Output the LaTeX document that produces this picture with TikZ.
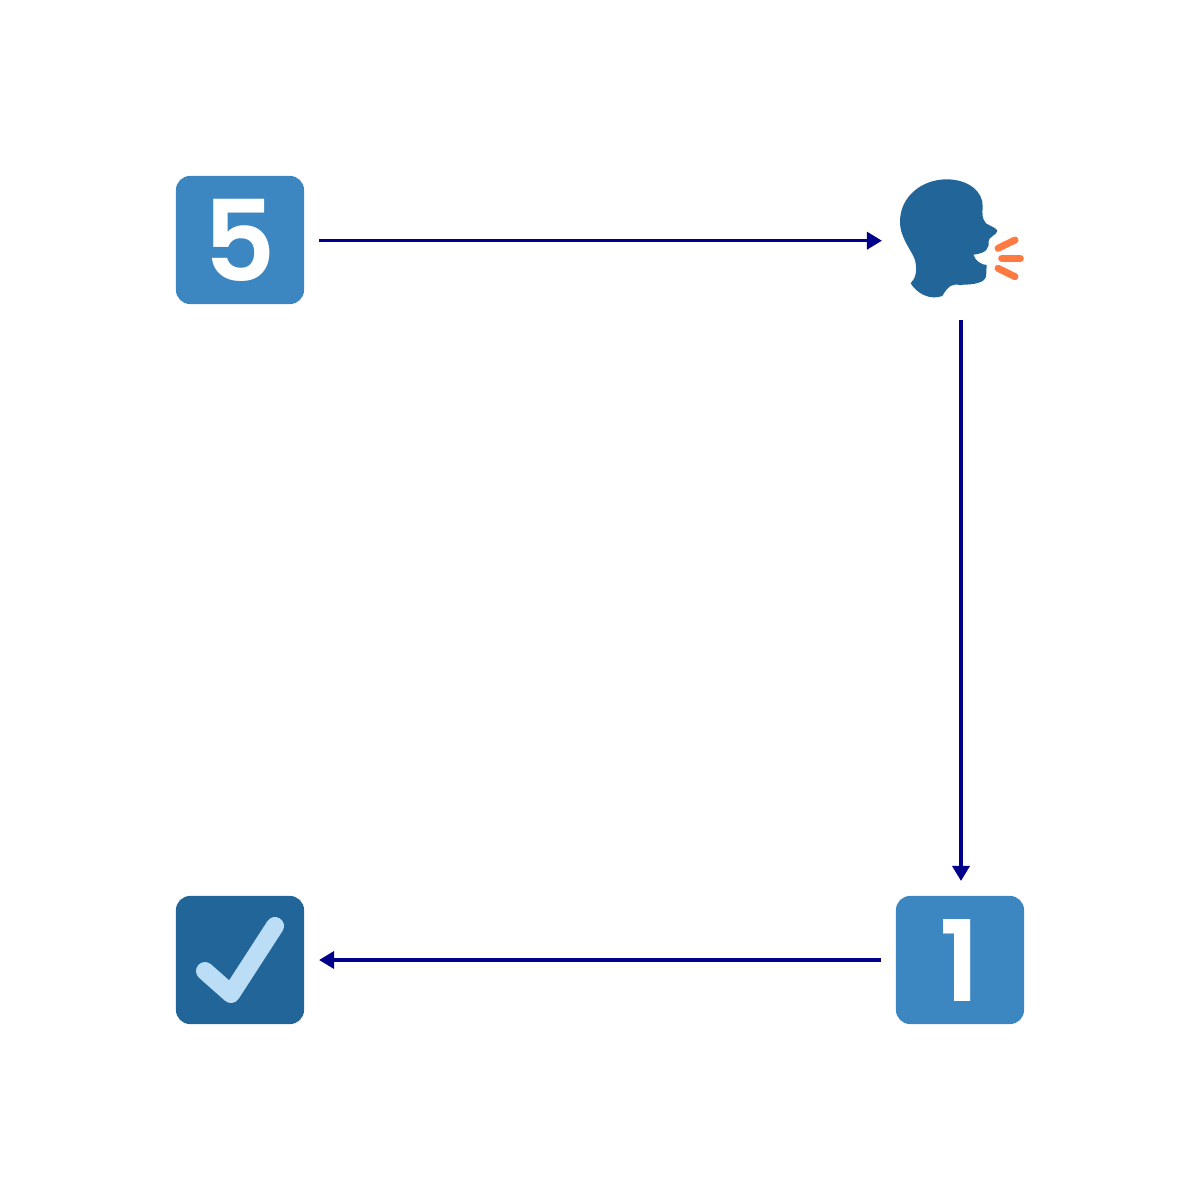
\documentclass[tikz,border=0pt]{standalone}
\usepackage{fontspec}
\newfontfamily\keyfont{Poppins SemiBold}
\usepackage{xcolor}
\definecolor{keyblue}{HTML}{3C87C2}
\definecolor{headblue}{HTML}{226699}
\definecolor{tickblue}{HTML}{BBDDF5}
\definecolor{shoutorange}{HTML}{FF7A40}
\definecolor{flowblue}{HTML}{00008B}
\usetikzlibrary{arrows.meta}
\tikzset{
  key/.style={minimum size=1.28cm,inner sep=0pt,outer sep=0.15cm,rounded corners=0.14cm,fill=keyblue,text=white,font=\fontsize{32}{32}\keyfont},
  flow/.style={draw=flowblue,line width=0.035cm,-{Triangle[length=0.15cm,width=0.17cm]}}
}
\begin{document}
\begin{tikzpicture}[x=0.01cm,y=-0.01cm]
\useasboundingbox (0,0) rectangle (1200,1200);
\node [key] (five) at (240,240) {5};
\node [minimum size=1.28cm,inner sep=0pt,outer sep=0.15cm] (head) at (961,240.7) {};
\node [key] (one) at (960,960) {1};
\node [key,fill=headblue] (check) at (240,960) {};
% tick
\draw [tickblue,line width=0.18cm,line cap=round,line join=round] (205,971) -- (231,994) -- (275,926);
% head
\begin{scope}[shift={(880,160)},scale=0.3333]
\fill [headblue] (92,370) .. controls (108,355) and (112,330) .. (105,300)
  .. controls (95,270) and (60,235) .. (60,185)
  .. controls (60,110) and (125,58) .. (200,58)
  .. controls (265,58) and (310,95) .. (308,140)
  .. controls (307,160) and (305,175) .. (318,190)
  .. controls (330,198) and (352,205) .. (352,213)
  .. controls (350,225) and (325,232) .. (326,243)
  .. controls (328,262) and (322,280) .. (280,284)
  .. controls (285,302) and (305,315) .. (320,315)
  .. controls (318,335) and (322,350) .. (312,360)
  .. controls (295,375) and (250,375) .. (225,374)
  .. controls (205,375) and (195,395) .. (187,408)
  .. controls (150,422) and (110,400) .. (92,370) -- cycle;
\draw [shoutorange,line width=0.07cm,line cap=round] (354,265) -- (405,240);
\draw [shoutorange,line width=0.07cm,line cap=round] (365,295) -- (421,295);
\draw [shoutorange,line width=0.07cm,line cap=round] (354,325) -- (405,350);
\end{scope}
\draw [flow] (five.east |- head.west) -- (head.west);
\draw [flow] (head.south) -- (head.south |- one.north);
\draw [flow] (one) -- (check);
\end{tikzpicture}
\end{document}
